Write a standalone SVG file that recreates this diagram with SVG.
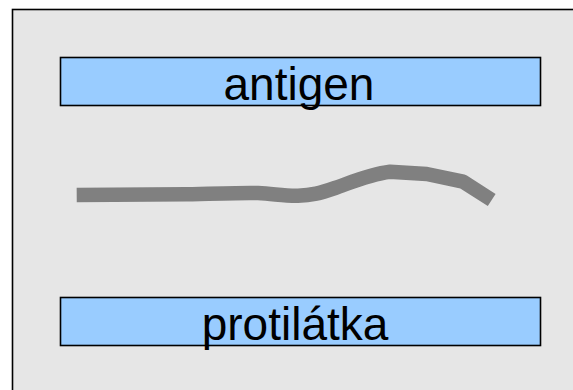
<svg xmlns="http://www.w3.org/2000/svg" width="573" height="390" viewBox="0 0 573 390">
<style>
.box{fill:#99ccff;stroke:#000;stroke-width:1.6}
.lbl{font-family:"Liberation Sans",Arial,sans-serif;font-size:46px;fill:#000;text-anchor:middle}
</style>
<rect x="0" y="0" width="573" height="390" fill="#fff"/>
<rect x="12.5" y="9.5" width="600" height="420" fill="#e6e6e6" stroke="#000" stroke-width="1.6"/>
<g id="antigen">
<rect class="box" x="60.5" y="57.5" width="480" height="48"/>
<text class="lbl" x="299" y="100">antigen</text>
</g>
<g id="connectors">
<path d="M76.7,195 L186.7,194.3 C215,193.5 243,192.5 258,193 C275,194 285,196 298,195.7 C312,195.5 320,193 335,188 C352,182 370,174 390,171.7 L426.7,174 L463,181.7 L491.7,200" fill="none" stroke="#808080" stroke-width="14.5" stroke-linejoin="round"/>
</g>
<g id="protilatka">
<rect class="box" x="60.5" y="297.5" width="480" height="48"/>
<text class="lbl" x="295" y="340">protilátka</text>
</g>
</svg>
